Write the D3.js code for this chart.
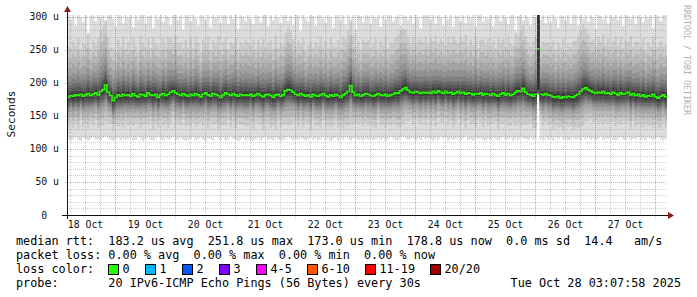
<!DOCTYPE html>
<html>
<head>
<meta charset="utf-8">
<script src="https://cdn.jsdelivr.net/npm/d3@7"></script>
<style>
  body { margin: 0; background: #fff; }
  svg text { font-family: "DejaVu Sans Mono", monospace; }
</style>
</head>
<body>
<div id="chart"></div>
<script>
// hourly buckets, first one starts 18 Oct 04:48 UTC, 240 hours in total
const startUtc = Date.UTC(2025, 9, 18, 4, 48);

// median rtt per hour (us)
const median = [
  178,181,180,182,181,183,180,182,184,181,183,185,182,187,190,197,186,181,173,178,182,180,183,181,
  182,180,184,181,179,183,182,180,185,182,181,183,178,182,184,181,183,186,188,185,183,181,184,182,
  180,183,181,184,182,179,183,185,182,180,184,183,181,178,182,185,183,181,184,182,180,183,181,182,
  181,183,180,182,184,181,179,182,183,181,178,182,183,180,182,188,190,189,186,183,181,184,182,180,
  182,179,183,181,180,182,184,181,179,182,180,183,181,178,182,184,187,196,186,181,183,180,182,184,
  183,181,180,182,184,182,181,183,180,182,183,185,184,188,191,193,189,186,185,187,186,184,186,185,
  186,184,187,185,188,186,184,187,185,186,183,185,187,184,186,183,185,184,182,184,183,185,182,184,
  183,181,184,182,180,183,185,182,184,181,183,186,188,187,192,186,183,182,180,183,251.8,183,182,184,
  182,181,179,178,180,177,179,178,180,179,178,181,183,187,191,193,190,188,186,184,186,185,187,184,
  185,183,186,184,182,185,183,184,186,182,184,181,183,180,182,179,181,180,183,179,177,180,182,178.8
];

// fastest ping per hour (bottom edge of the smoke, us)
const minPing = [
  116,113,115,118,114,112,117,115,113,116,118,114,115,113,117,119,116,114,112,115,117,113,116,114,
  115,117,113,114,118,116,112,115,117,114,113,116,119,115,113,117,114,116,118,113,115,117,114,112,
  114,116,118,113,115,117,114,112,116,115,113,118,116,114,117,113,115,119,116,114,112,115,117,113,
  116,114,112,115,117,113,116,118,114,115,113,117,115,112,114,116,118,115,113,116,114,117,115,113,
  115,117,114,116,113,115,118,114,116,112,115,117,113,116,114,118,115,113,116,117,114,115,113,116,
  114,116,113,115,117,114,116,112,115,118,116,114,113,117,119,116,114,115,117,113,116,114,118,115,
  117,115,113,116,114,118,115,117,113,116,114,115,117,113,116,118,114,115,113,117,115,116,114,113,
  116,114,117,115,113,116,118,114,115,117,113,116,114,118,116,115,113,117,114,116,182,115,113,117,
  114,116,113,117,115,118,114,116,113,115,117,114,116,113,118,115,117,114,116,113,115,118,114,116,
  115,117,114,113,116,118,115,114,117,113,116,115,118,114,116,113,117,115,114,116,118,115,113,116
];

// slowest ping per hour (top edge of the smoke, us)
const maxPing = [
  310,296,305,288,315,300,292,308,276,302,312,294,306,298,318,289,304,311,297,286,309,303,291,314,
  299,307,285,312,296,304,318,290,301,309,283,305,297,313,292,306,300,288,316,303,295,308,281,311,
  304,293,310,298,287,315,302,296,308,284,313,299,306,291,317,303,289,310,297,305,282,312,300,294,
  308,297,289,314,301,292,306,318,286,303,295,311,299,290,307,316,294,302,288,313,304,279,309,298,
  293,311,302,287,305,316,298,291,309,300,284,314,303,295,308,289,312,297,306,281,315,301,292,310,
  302,289,313,298,307,285,311,296,304,318,293,300,309,287,314,302,295,306,290,312,299,283,308,304,
  311,296,303,290,316,300,288,309,297,313,285,305,301,294,317,291,307,298,312,286,304,310,293,300,
  297,308,286,312,303,294,315,299,289,306,311,280,302,309,295,313,298,287,305,300,380,296,310,291,
  305,292,309,298,284,314,301,295,308,290,316,303,287,311,297,306,293,313,299,282,309,302,296,312,
  290,307,299,313,295,304,286,310,302,297,315,289,306,300,292,311,298,305,284,309,301,294,312,303
];

// how wide the inner pings spread in each hour, relative to the typical spread
const spread = [
  1.00,0.92,1.08,0.95,1.12,0.88,1.03,0.97,1.15,0.90,1.05,0.93,1.10,1.18,1.22,1.25,1.06,0.94,1.02,0.89,1.07,0.96,1.11,0.91,
  1.04,0.90,1.09,0.97,0.87,1.13,1.00,0.94,1.06,0.91,1.14,0.98,1.02,0.88,1.08,0.95,1.12,1.05,0.93,1.10,0.97,1.03,0.89,1.07,
  0.95,1.08,0.92,1.11,1.00,0.87,1.06,0.96,1.13,0.90,1.04,0.98,1.15,0.93,1.01,1.09,0.88,1.05,0.97,1.12,0.91,1.03,0.99,1.07,
  1.02,0.94,1.10,0.89,1.05,0.97,1.13,0.92,1.00,1.08,0.95,1.16,0.90,1.04,0.98,1.12,1.20,1.15,1.03,0.93,1.07,0.96,1.10,0.88,
  0.97,1.09,0.91,1.04,0.99,1.14,0.89,1.06,0.95,1.11,1.00,0.92,1.08,0.96,1.13,1.05,1.18,1.26,1.10,0.94,1.02,0.90,1.07,0.98,
  1.06,0.93,1.01,1.10,0.88,1.05,0.97,1.12,0.94,1.03,0.99,1.08,1.14,1.20,1.17,1.12,1.04,0.95,1.09,0.92,1.01,1.06,0.96,1.10,
  0.93,1.07,0.98,1.12,0.91,1.04,1.00,0.89,1.09,0.96,1.13,1.02,0.94,1.08,0.99,1.15,0.92,1.05,0.97,1.11,0.90,1.03,1.07,0.95,
  1.08,0.96,1.03,0.90,1.12,0.99,1.05,0.93,1.10,1.01,0.95,1.14,1.07,1.16,1.22,1.09,1.00,0.94,1.06,1.12,1.00,0.91,1.04,0.97,
  1.02,0.95,1.09,0.92,1.05,0.98,1.13,0.90,1.04,0.97,1.10,1.06,1.12,1.18,1.24,1.15,1.08,0.96,1.03,0.91,1.07,0.99,1.11,0.94,
  1.05,0.93,1.00,1.11,0.96,1.08,0.90,1.03,0.98,1.14,0.92,1.06,1.01,0.95,1.10,0.89,1.04,0.97,1.12,0.93,1.00,1.07,0.94,1.02
];

// typical offsets of pings 2..19 from the median (us), read off the smoke bands
const smokeOffsets = [-45, -35, -27, -21, -17, -14, -11, -7, -3, 3, 7, 12, 17, 24, 33, 45, 60, 78];

// the one odd hour on 25 Oct: all 20 pings sorted
const spikeHour = 188;
const spikePings = [182,182,183,183,184,184,185,186,187,190,330,335,340,345,350,355,360,365,370,380];

const smokeGreys = ["#dddddd","#cacaca","#b7b7b7","#a4a4a4","#919191","#7e7e7e","#6b6b6b","#585858","#454545","#323232"];

const yTicks = [0, 50, 100, 150, 200, 250, 300];

const lossLabels = ["0", "1", "2", "3", "4-5", "6-10", "11-19", "20/20"];
const lossColors = ["#26ff00", "#00b8ff", "#0059ff", "#7e00ff", "#ff00ff", "#ff5500", "#ff0000", "#a10000"];

const legendLines = [
  "median rtt:  183.2 us avg  251.8 us max  173.0 us min  178.8 us now  0.0 ms sd  14.4   am/s",
  "packet loss: 0.00 % avg  0.00 % max  0.00 % min  0.00 % now",
  "loss color:",
  "probe:       20 IPv6-ICMP Echo Pings (56 Bytes) every 30s"
];
const stampText = "Tue Oct 28 03:07:58 2025";

// --- layout ---
const width = 697, height = 297;
const plot = { left: 67, right: 667, top: 15, bottom: 215 };
const hourMs = 3600 * 1000;
const endUtc = startUtc + median.length * hourMs;

const svg = d3.select("#chart").append("svg")
  .attr("width", width)
  .attr("height", height);

const x = d3.scaleUtc()
  .domain([new Date(startUtc), new Date(endUtc)])
  .range([plot.left, plot.right]);

const y = d3.scaleLinear()
  .domain([0, 303])
  .range([plot.bottom, plot.top]);

svg.append("clipPath").attr("id", "plotClip")
  .append("rect")
  .attr("x", plot.left).attr("y", plot.top)
  .attr("width", plot.right - plot.left).attr("height", plot.bottom - plot.top);

// --- build the columns ---
const cols = median.map((m, i) => {
  const pings = i === spikeHour
    ? spikePings
    : [minPing[i], ...smokeOffsets.map(o => m + o * spread[i]), maxPing[i]];
  return { t: new Date(startUtc + i * hourMs), median: m, pings };
});
// closing point so the last step reaches the right edge
const stepCols = cols.concat([{ ...cols[cols.length - 1], t: new Date(endUtc) }]);

// --- smoke ---
const smoke = svg.append("g").attr("clip-path", "url(#plotClip)");
smokeGreys.forEach((grey, b) => {
  const band = d3.area()
    .curve(d3.curveStepAfter)
    .x(d => x(d.t))
    .y0(d => y(d.pings[b]))
    .y1(d => y(d.pings[19 - b]));
  smoke.append("path")
    .attr("d", band(stepCols))
    .attr("fill", grey);
});

// median line, broken where it jumps a lot (rrdtool leaves no green riser there)
const runs = [];
let run = [];
stepCols.forEach((d, i) => {
  if (i > 0 && Math.abs(d.median - stepCols[i - 1].median) > 30) {
    run.push({ t: d.t, median: run[run.length - 1].median });
    runs.push(run);
    run = [];
  }
  run.push(d);
});
runs.push(run);

const medLine = d3.line()
  .curve(d3.curveStepAfter)
  .x(d => x(d.t))
  .y(d => y(d.median));
smoke.selectAll("path.median").data(runs).join("path")
  .attr("class", "median")
  .attr("d", medLine)
  .attr("fill", "none")
  .attr("stroke", lossColors[0])
  .attr("stroke-width", 1.6);

// --- grid ---
const grid = svg.append("g");
const minorY = d3.range(0, 301, 10).filter(v => v % 50 !== 0);
grid.selectAll(".gy").data(minorY).join("line")
  .attr("x1", plot.left).attr("x2", plot.right)
  .attr("y1", d => Math.round(y(d)) + 0.5).attr("y2", d => Math.round(y(d)) + 0.5)
  .attr("stroke", "rgba(140,140,140,0.45)").attr("stroke-dasharray", "1,1");
const minorX = d3.utcHour.every(6).range(new Date(startUtc), new Date(endUtc))
  .filter(d => d.getUTCHours() !== 0);
grid.selectAll(".gx").data(minorX).join("line")
  .attr("x1", d => Math.round(x(d)) + 0.5).attr("x2", d => Math.round(x(d)) + 0.5)
  .attr("y1", plot.top).attr("y2", plot.bottom + 2)
  .attr("stroke", "rgba(140,140,140,0.45)").attr("stroke-dasharray", "1,1");
grid.selectAll(".my").data(yTicks.filter(v => v > 0)).join("line")
  .attr("x1", plot.left - 2).attr("x2", plot.right)
  .attr("y1", d => Math.round(y(d)) + 0.5).attr("y2", d => Math.round(y(d)) + 0.5)
  .attr("stroke", "rgba(210,40,40,0.45)").attr("stroke-dasharray", "1,1");
const days = d3.utcDay.range(new Date(startUtc), new Date(endUtc));
grid.selectAll(".mx").data(days).join("line")
  .attr("x1", d => Math.round(x(d)) + 0.5).attr("x2", d => Math.round(x(d)) + 0.5)
  .attr("y1", plot.top).attr("y2", plot.bottom + 3)
  .attr("stroke", "rgba(210,40,40,0.45)").attr("stroke-dasharray", "1,1");

// --- axes ---
svg.append("line")
  .attr("x1", plot.left - 5).attr("x2", plot.right + 2)
  .attr("y1", plot.bottom + 0.5).attr("y2", plot.bottom + 0.5)
  .attr("stroke", "#111");
svg.append("line")
  .attr("x1", plot.left + 0.5).attr("x2", plot.left + 0.5)
  .attr("y1", plot.bottom + 4).attr("y2", plot.top - 5)
  .attr("stroke", "#111");
svg.append("path")
  .attr("d", `M${plot.left - 3},${plot.top - 3}L${plot.left + 0.5},${plot.top - 9}L${plot.left + 4},${plot.top - 3}Z`)
  .attr("fill", "#8b1a1a");
svg.append("path")
  .attr("d", `M${plot.right + 1},${plot.bottom - 3}L${plot.right + 7},${plot.bottom + 0.5}L${plot.right + 1},${plot.bottom + 4}Z`)
  .attr("fill", "#8b1a1a");

// y tick labels
svg.append("g").selectAll("text").data(yTicks).join("text")
  .attr("x", 59)
  .attr("y", d => y(d) + 3.5)
  .attr("text-anchor", "end")
  .attr("xml:space", "preserve")
  .style("white-space", "pre")
  .attr("font-size", "9.8px")
  .attr("fill", "#111")
  .text(d => d === 0 ? "0  " : `${d} u`);

// x tick labels, centred on noon
const fmtDay = d3.utcFormat("%d %b");
const dayLabels = d3.utcDay.range(new Date(startUtc - 24 * hourMs), new Date(endUtc))
  .map(d => new Date(+d + 12 * hourMs))
  .filter(d => x(d) > plot.left && x(d) < plot.right);
svg.append("g").selectAll("text").data(dayLabels).join("text")
  .attr("x", d => x(d) + 0.5)
  .attr("y", 228)
  .attr("text-anchor", "middle")
  .attr("font-size", "9.8px")
  .attr("fill", "#111")
  .text(d => fmtDay(d));

// y title
svg.append("text")
  .attr("transform", "translate(11,114) rotate(-90)")
  .attr("dy", "0.35em")
  .attr("text-anchor", "middle")
  .attr("font-size", "11.1px")
  .attr("fill", "#111")
  .text("Seconds");

// watermark
svg.append("text")
  .attr("transform", "translate(687,5) rotate(90)")
  .attr("dy", "0.35em")
  .attr("font-size", "8.3px")
  .attr("fill", "#b0b0b0")
  .text("RRDTOOL / TOBI OETIKER");

// --- legend ---
const legend = svg.append("g").attr("font-size", "11.8px").attr("fill", "#000");
legend.selectAll("text.row").data(legendLines).join("text")
  .attr("class", "row")
  .attr("x", 16)
  .attr("y", (d, i) => 245 + i * 14)
  .attr("xml:space", "preserve")
  .style("white-space", "pre")
  .text(d => d);

let bx = 108;
lossLabels.forEach((lab, i) => {
  legend.append("rect")
    .attr("x", bx + 0.5).attr("y", 264.5)
    .attr("width", 10).attr("height", 10)
    .attr("fill", lossColors[i])
    .attr("stroke", "#000");
  legend.append("text")
    .attr("x", bx + 14.5).attr("y", 273)
    .text(lab);
  bx = bx + 15 + lab.length * 7 + 15;
});

legend.append("text")
  .attr("x", 681).attr("y", 287)
  .attr("text-anchor", "end")
  .text(stampText);
</script>
</body>
</html>
